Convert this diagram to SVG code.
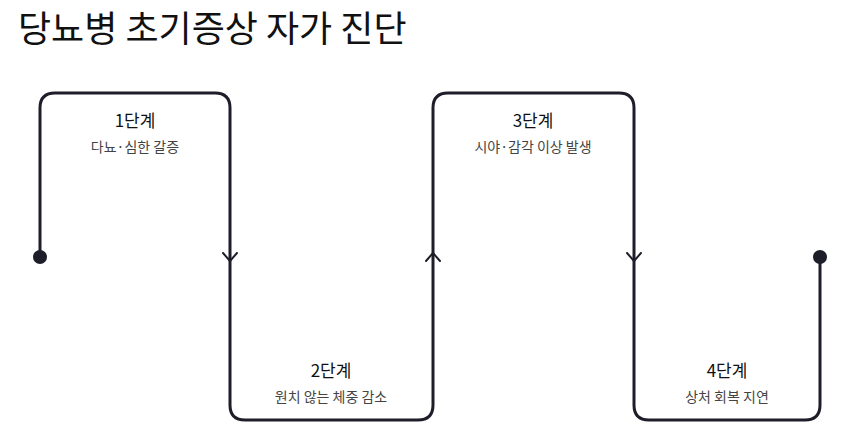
<svg xmlns="http://www.w3.org/2000/svg" width="841" height="442" viewBox="0 0 841 442">
<style>
.title{font-family:"Noto Sans CJK KR","Noto Sans",sans-serif;font-size:36px;fill:#111;}
.h{font-family:"Noto Sans CJK KR","Noto Sans",sans-serif;font-size:17px;fill:#111;text-anchor:middle;}
.s{font-family:"Noto Sans CJK KR","Noto Sans",sans-serif;font-size:14px;fill:#444;text-anchor:middle;}
.ln{fill:none;stroke:#1e1e2a;stroke-width:3;stroke-linejoin:round;stroke-linecap:round;}
.ar{fill:none;stroke:#1e1e2a;stroke-width:2;stroke-linecap:round;stroke-linejoin:round;}
.dot{fill:#1e1e2a;}
</style>
<rect width="841" height="442" fill="#fff"/>
<text class="title" x="18" y="42">당뇨병 초기증상 자가 진단</text>
<g id="connectors">
<path class="ln" d="M40,257 V108 Q40,93 55,93 H215 Q230,93 230,108 V405 Q230,420 245,420 H418 Q433,420 433,405 V108 Q433,93 448,93 H619 Q634,93 634,108 V405 Q634,420 649,420 H805 Q820,420 820,405 V257"/>
<path class="ar" d="M223,253 L230,261 L237,253"/>
<path class="ar" d="M426,261 L433,253 L440,261"/>
<path class="ar" d="M627,253 L634,261 L641,253"/>
<circle class="dot" cx="40" cy="257" r="7"/>
<circle class="dot" cx="820" cy="257" r="7"/>
</g>
<g id="step1">
<text class="h" x="135" y="127">1단계</text>
<text class="s" x="135" y="152">다뇨·심한 갈증</text>
</g>
<g id="step2">
<text class="h" x="331" y="377">2단계</text>
<text class="s" x="331" y="402">원치 않는 체중 감소</text>
</g>
<g id="step3">
<text class="h" x="533" y="127">3단계</text>
<text class="s" x="533" y="152">시야·감각 이상 발생</text>
</g>
<g id="step4">
<text class="h" x="727" y="377">4단계</text>
<text class="s" x="727" y="402">상처 회복 지연</text>
</g>
</svg>
